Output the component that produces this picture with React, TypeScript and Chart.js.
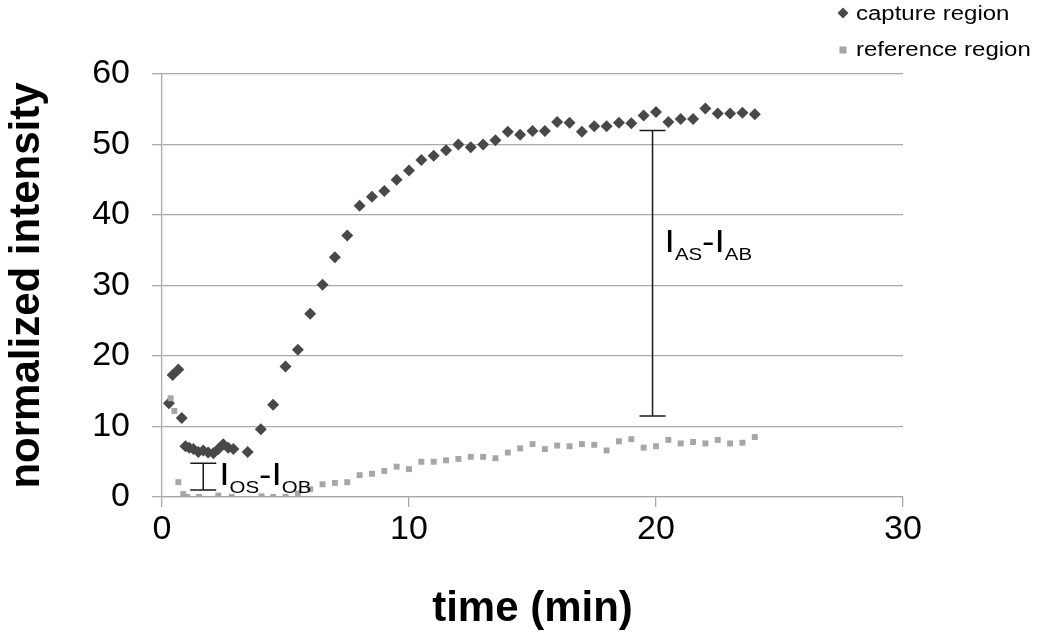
import React, { useEffect, useRef } from 'react';
import { Chart, registerables } from 'chart.js';

Chart.register(...registerables);

// ---- data ----
const captureTime = [0.28, 0.43, 0.66, 0.8, 0.95, 1.1, 1.27, 1.47, 1.67, 1.87, 2.08, 2.28, 2.48, 2.68, 2.89, 3.47, 4.0, 4.5, 5.0, 5.5, 6.0, 6.5, 7.0, 7.5, 8.0, 8.5, 9.0, 9.5, 10.0, 10.5, 11.0, 11.5, 12.0, 12.5, 13.0, 13.5, 14.0, 14.5, 15.0, 15.5, 16.0, 16.5, 17.0, 17.5, 18.0, 18.5, 19.0, 19.5, 20.0, 20.5, 21.0, 21.5, 22.0, 22.5, 23.0, 23.5, 24.0];
const captureIntensity = [13.3, 17.3, 18.1, 11.2, 7.2, 7.0, 6.8, 6.4, 6.6, 6.3, 6.2, 6.8, 7.5, 7.0, 6.8, 6.4, 9.6, 13.1, 18.5, 20.9, 26.0, 30.1, 34.0, 37.1, 41.3, 42.6, 43.4, 45.0, 46.3, 47.8, 48.4, 49.2, 50.0, 49.6, 50.0, 50.6, 51.8, 51.4, 51.9, 51.9, 53.2, 53.1, 51.8, 52.6, 52.6, 53.1, 53.0, 54.1, 54.6, 53.2, 53.6, 53.6, 55.1, 54.4, 54.4, 54.5, 54.3];

const referenceTime = [0.35, 0.5, 0.66, 0.86, 1.02, 1.5, 2.28, 2.82, 4.03, 4.5, 5.0, 5.5, 6.0, 6.5, 7.0, 7.5, 8.0, 8.5, 9.0, 9.5, 10.0, 10.5, 11.0, 11.5, 12.0, 12.5, 13.0, 13.5, 14.0, 14.5, 15.0, 15.5, 16.0, 16.5, 17.0, 17.5, 18.0, 18.5, 19.0, 19.5, 20.0, 20.5, 21.0, 21.5, 22.0, 22.5, 23.0, 23.5, 24.0];
const referenceIntensity = [14.0, 12.2, 2.1, 0.4, 0.0, 0.0, 0.2, 0.0, 0.1, 0.0, 0.0, 0.5, 1.1, 1.8, 2.0, 2.1, 3.1, 3.3, 3.7, 4.3, 3.95, 5.0, 5.0, 5.2, 5.4, 5.7, 5.7, 5.5, 6.3, 6.9, 7.5, 6.8, 7.3, 7.2, 7.5, 7.4, 6.6, 7.9, 8.2, 7.0, 7.2, 8.1, 7.6, 7.8, 7.6, 8.1, 7.6, 7.7, 8.5];

const seriesNames = ['capture region', 'reference region'];
const xTickValues = [0, 10, 20, 30];
const yTickValues = [0, 10, 20, 30, 40, 50, 60];
const xTitle = 'time (min)';
const yTitle = 'normalized intensity';

// annotation bars (data units)
const barX = [1.67, 19.86];
const barLow = [1.0, 11.5];
const barHigh = [4.8, 52.0];
const barLabelBaseline = [1.7, 34.75];
const barSubA = ['OS', 'AS'];
const barSubB = ['OB', 'AB'];

const FONT = "'Liberation Sans', Arial, Helvetica, sans-serif";
const CAPTURE_COLOR = '#484848';
const REF_COLOR = '#a6a6a6';
const GRID_COLOR = '#a9a9a9';

function drawSubLabel(ctx: CanvasRenderingContext2D, x: number, y: number, subA: string, subB: string) {
  const sx = 1.2;
  ctx.save();
  ctx.translate(x, y);
  ctx.scale(sx, 1);
  ctx.fillStyle = '#000';
  ctx.textBaseline = 'alphabetic';
  ctx.textAlign = 'left';
  const big = `31px ${FONT}`;
  const small = `17px ${FONT}`;
  let cx = 0;
  const part = (t: string, font: string, dy: number) => {
    ctx.font = font;
    ctx.fillText(t, cx, dy);
    cx += ctx.measureText(t).width;
  };
  part('I', big, 0);
  part(subA, small, 8);
  part('-', big, 0);
  part('I', big, 0);
  part(subB, small, 8);
  ctx.restore();
}

const annotationPlugin = {
  id: 'customAnnotations',
  afterDatasetsDraw(chart: any) {
    const ctx: CanvasRenderingContext2D = chart.ctx;
    const xs = chart.scales.x;
    const ys = chart.scales.y;
    ctx.save();
    ctx.strokeStyle = '#1a1a1a';
    ctx.lineWidth = 1.5;
    for (let i = 0; i < barX.length; i++) {
      const px = xs.getPixelForValue(barX[i]);
      const pl = ys.getPixelForValue(barLow[i]);
      const ph = ys.getPixelForValue(barHigh[i]);
      ctx.beginPath();
      ctx.moveTo(px, pl);
      ctx.lineTo(px, ph);
      ctx.moveTo(px - 13, pl);
      ctx.lineTo(px + 13, pl);
      ctx.moveTo(px - 13, ph);
      ctx.lineTo(px + 13, ph);
      ctx.stroke();
      const off = i === 0 ? 16 : 12;
      drawSubLabel(ctx, px + off, ys.getPixelForValue(barLabelBaseline[i]), barSubA[i], barSubB[i]);
    }
    ctx.restore();
  },
  afterDraw(chart: any) {
    const ctx: CanvasRenderingContext2D = chart.ctx;
    ctx.save();
    // diamond
    ctx.fillStyle = CAPTURE_COLOR;
    const dx = 843, dy = 13, r = 5.5;
    ctx.beginPath();
    ctx.moveTo(dx - r, dy);
    ctx.lineTo(dx, dy - r);
    ctx.lineTo(dx + r, dy);
    ctx.lineTo(dx, dy + r);
    ctx.closePath();
    ctx.fill();
    ctx.fillStyle = REF_COLOR;
    ctx.fillRect(843 - 3.5, 50 - 3.5, 7, 7);
    ctx.fillStyle = '#000';
    ctx.textBaseline = 'middle';
    ctx.textAlign = 'left';
    ctx.font = `20px ${FONT}`;
    const items: [string, number][] = [[seriesNames[0], 14], [seriesNames[1], 50]];
    for (const [t, y] of items) {
      ctx.save();
      ctx.translate(856, y);
      ctx.scale(1.2, 1);
      ctx.fillText(t, 0, 0);
      ctx.restore();
    }
    ctx.restore();
  },
};

export default function App() {
  const canvasRef = useRef<HTMLCanvasElement | null>(null);

  useEffect(() => {
    if (!canvasRef.current) return;
    const chart = new Chart(canvasRef.current, {
      type: 'scatter',
      data: {
        datasets: [
          {
            label: seriesNames[0],
            data: captureTime.map((t, i) => ({ x: t, y: captureIntensity[i] })),
            pointStyle: 'rectRot',
            pointRadius: 6,
            pointBackgroundColor: CAPTURE_COLOR,
            pointBorderColor: CAPTURE_COLOR,
            pointBorderWidth: 0,
            showLine: false,
            order: 1,
          },
          {
            label: seriesNames[1],
            data: referenceTime.map((t, i) => ({ x: t, y: referenceIntensity[i] })),
            pointStyle: 'rect',
            pointRadius: 4.2,
            pointBackgroundColor: REF_COLOR,
            pointBorderColor: REF_COLOR,
            pointBorderWidth: 0,
            showLine: false,
            order: 0,
          },
        ],
      },
      options: {
        responsive: false,
        animation: false,
        devicePixelRatio: 1,
        layout: { padding: { left: 0, right: 147, top: 74, bottom: 0 } },
        plugins: {
          legend: { display: false },
          tooltip: { enabled: false },
        },
        scales: {
          x: {
            type: 'linear',
            min: 0,
            max: 30,
            afterBuildTicks: (scale: any) => {
              scale.ticks = xTickValues.map((v) => ({ value: v }));
            },
            afterFit: (scale: any) => {
              scale.height = 138;
            },
            grid: {
              display: true,
              drawOnChartArea: false,
              drawTicks: true,
              tickLength: 10,
              color: GRID_COLOR,
              lineWidth: 1.3,
            },
            border: { display: true, color: GRID_COLOR, width: 1.3 },
            ticks: {
              font: { family: FONT, size: 34 },
              color: '#000',
              padding: 2,
              maxRotation: 0,
            },
            title: {
              display: true,
              text: xTitle,
              font: { family: FONT, size: 42, weight: 'bold' },
              color: '#000',
              padding: { top: 0, bottom: 0 },
            },
          },
          y: {
            type: 'linear',
            min: 0,
            max: 60,
            afterBuildTicks: (scale: any) => {
              scale.ticks = yTickValues.map((v) => ({ value: v }));
            },
            afterFit: (scale: any) => {
              scale.width = 162;
            },
            grid: {
              display: true,
              drawTicks: true,
              tickLength: 10,
              color: GRID_COLOR,
              lineWidth: 1.3,
            },
            border: { display: true, color: GRID_COLOR, width: 1.3 },
            ticks: {
              font: { family: FONT, size: 34 },
              color: '#000',
              padding: 22,
            },
            title: {
              display: true,
              text: yTitle,
              font: { family: FONT, size: 42, weight: 'bold' },
              color: '#000',
              padding: { top: 2, bottom: 0 },
            },
          },
        },
      },
      plugins: [annotationPlugin],
    } as any);
    return () => chart.destroy();
  }, []);

  return (
    <div style={{ position: 'absolute', left: 0, top: 0, width: 1050, height: 635, background: '#fff' }}>
      <canvas ref={canvasRef} width={1050} height={635} style={{ display: 'block' }} />
    </div>
  );
}
